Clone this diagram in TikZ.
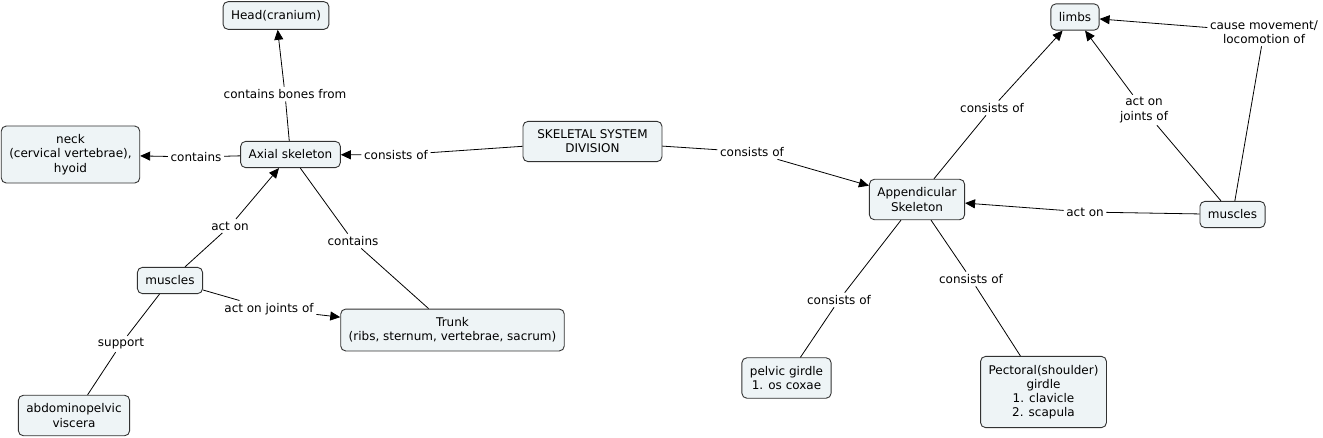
\documentclass[tikz,border=0pt]{standalone}
\usepackage{fontspec}
\setmainfont{DejaVu Sans}
\definecolor{boxfill}{RGB}{238, 244, 246}
\definecolor{boxline}{RGB}{50, 50, 50}
\usetikzlibrary{arrows.meta}

\begin{document}
\begin{tikzpicture}[x=1pt, y=-1pt,
  concept/.style={draw=boxline, fill=boxfill, rounded corners=5pt, line width=0.9pt, align=center, inner xsep=8pt, inner ysep=8.5pt, font=\fontsize{12}{14.2}\selectfont},
  linkword/.style={align=center, inner sep=2.5pt, font=\fontsize{12}{14.2}\selectfont},
  link/.style={line width=0.8pt},
  arr/.style={link, -{Triangle[length=10pt, width=9pt]}}]
  \useasboundingbox (0,0) rectangle (1323,437);

  % Axial side
  \node[concept] (head) at (276, 15.5) {Head(cranium)};
  \node[concept] (neck) at (70.5, 154.5) {neck\\(cervical vertebrae),\\hyoid};
  \node[concept] (axial) at (290.5, 154.5) {Axial skeleton};
  \node[concept, minimum width=139pt] (ssd) at (592.5, 141.5) {SKELETAL SYSTEM\\DIVISION};
  \node[concept] (musclesL) at (170, 280.5) {muscles};
  \node[concept] (trunk) at (452.5, 330) {Trunk\\(ribs, sternum, vertebrae, sacrum)};
  \node[concept] (viscera) at (74, 415.5) {abdominopelvic\\viscera};

  % Appendicular side
  \node[concept] (app) at (917, 199.5) {Appendicular\\Skeleton};
  \node[concept] (limbs) at (1075, 17) {limbs};
  \node[concept] (musclesR) at (1232.5, 214.5) {muscles};
  \node[concept] (pelvic) at (786.5, 378) {pelvic girdle\\1. os coxae};
  \node[concept] (pectoral) at (1043.5, 392) {Pectoral(shoulder)\\girdle\\1. clavicle\\2. scapula};

  % Linking words
  \node[linkword] (lHead) at (285, 94) {contains bones from};
  \node[linkword] (lNeck) at (196, 157) {contains};
  \node[linkword] (lAxial) at (396, 155) {consists of};
  \node[linkword] (lApp) at (752, 152) {consists of};
  \node[linkword] (lActL) at (230, 226) {act on};
  \node[linkword] (lTrunk) at (353, 241) {contains};
  \node[linkword] (lJointsL) at (269, 309) {act on joints of};
  \node[linkword] (lSupport) at (121, 344) {support};
  \node[linkword] (lLimbs) at (992, 108) {consists of};
  \node[linkword] (lJointsR) at (1144, 110) {act on\\joints of};
  \node[linkword] (lCause) at (1264, 32) {cause movement/\\locomotion of};
  \node[linkword] (lActR) at (1085, 212) {act on};
  \node[linkword] (lPelvic) at (839, 300) {consists of};
  \node[linkword] (lPect) at (971, 279) {consists of};

  % Connectors
  \draw[link] (axial) -- (lHead);
  \draw[arr] (lHead) -- (head);
  \draw[link] (axial) -- (lNeck);
  \draw[arr] (lNeck) -- (neck);
  \draw[link] (ssd) -- (lAxial);
  \draw[arr] (lAxial) -- (axial);
  \draw[link] (ssd) -- (lApp);
  \draw[arr] (lApp) -- (app);
  \draw[link] (musclesL) -- (lActL);
  \draw[arr] (lActL) -- (axial);
  \draw[link] (axial) -- (lTrunk);
  \draw[link] (lTrunk) -- (trunk);
  \draw[link] (musclesL) -- (lJointsL);
  \draw[arr] (lJointsL) -- (trunk);
  \draw[link] (musclesL) -- (lSupport);
  \draw[link] (lSupport) -- (viscera);

  \draw[link] (app) -- (lLimbs);
  \draw[arr] (lLimbs) -- (limbs);
  \draw[link] (musclesR) -- (lJointsR);
  \draw[arr] (lJointsR) -- (limbs);
  \draw[link] (musclesR) -- (lCause);
  \draw[arr] (lCause) -- (limbs);
  \draw[link] (musclesR) -- (lActR);
  \draw[arr] (lActR) -- (app);
  \draw[link] (app) -- (lPelvic);
  \draw[link] (lPelvic) -- (pelvic);
  \draw[link] (app) -- (lPect);
  \draw[link] (lPect) -- (pectoral);
\end{tikzpicture}
\end{document}
